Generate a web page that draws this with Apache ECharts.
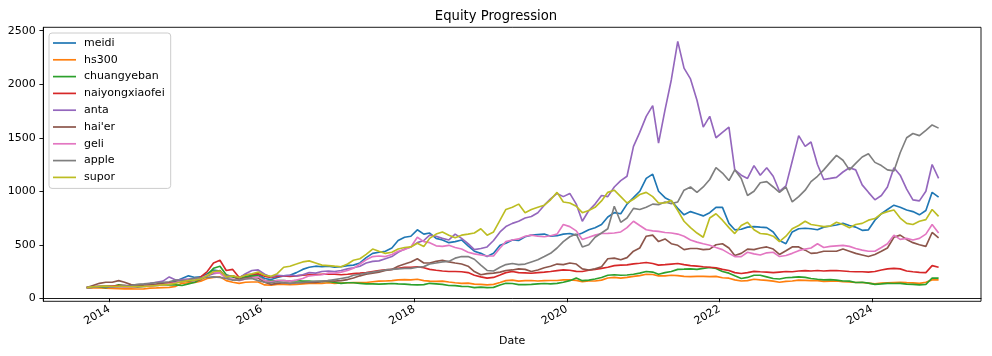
<!DOCTYPE html>
<html>
<head>
<meta charset="utf-8">
<script src="https://cdn.jsdelivr.net/npm/echarts@6/dist/echarts.min.js"></script>
<style>
html,body{margin:0;padding:0;background:#fff;}
#chart{width:992px;height:356px;}
</style>
</head>
<body>
<div id="chart"></div>
<script>
// Monthly samples: Sep 2013 .. Nov 2024 (135 points)
const firstMonth = [2013, 9];
const pointCount = 135;

const seriesNames = ['meidi','hs300','chuangyeban','naiyongxiaofei','anta',"hai'er",'geli','apple','supor'];
const yTickValues = [0, 500, 1000, 1500, 2000, 2500];
const xTickYears = [2014, 2016, 2018, 2020, 2022, 2024];

const meidi = [
 100,105,110,115,
 112,110,108,110,112,115,120,130,140,145,160,185,
 210,195,200,230,265,255,200,205,180,200,215,225,
 185,175,195,210,215,240,270,290,300,295,300,290,
 295,305,310,330,380,420,430,440,470,540,570,580,
 640,600,610,560,545,520,530,545,490,440,420,390,
 420,495,515,545,540,575,590,595,600,580,585,600,
 605,590,610,640,660,690,760,800,790,880,940,1000,
 1120,1160,1000,940,910,840,780,810,790,770,800,850,
 850,700,640,645,665,670,665,660,620,540,510,620,
 650,655,650,640,665,675,685,700,680,665,635,640,
 730,790,830,870,850,825,810,780,820,990,945
];
const hs300 = [
 100,98,97,95,
 92,90,88,88,87,88,95,97,100,102,112,140,
 145,148,160,185,195,200,165,150,140,150,152,152,
 125,122,130,130,128,130,135,140,138,140,145,140,
 143,145,146,146,148,155,160,162,165,172,175,172,
 178,165,160,158,160,152,145,140,142,132,130,125,
 130,148,165,170,160,165,166,162,165,166,166,172,
 172,168,155,162,162,170,190,195,188,195,205,212,
 225,222,210,210,215,212,205,202,205,205,202,205,
 192,188,172,162,165,178,172,168,160,150,158,162,
 170,168,165,165,158,160,162,155,152,148,148,142,
 135,142,145,148,150,146,144,140,150,172,172
];
const chuangyeban = [
 100,103,106,100,
 110,125,120,110,105,110,115,120,125,125,125,120,
 135,150,180,220,280,300,220,200,180,200,210,210,
 165,160,165,165,160,165,160,160,155,158,157,148,
 140,145,145,140,135,135,132,135,138,135,132,128,
 125,128,140,135,130,120,118,112,110,100,105,100,
 102,125,140,138,128,128,130,135,138,135,140,150,
 165,190,165,170,180,195,215,220,215,218,225,235,
 250,245,225,240,250,270,272,275,270,280,288,278,
 250,235,210,185,195,215,215,200,185,180,192,195,
 200,195,185,178,172,175,170,162,160,148,150,142,
 130,135,140,138,140,132,130,125,130,190,188
];
const naiyongxiaofei = [
 100,105,110,115,
 115,120,118,115,118,120,125,130,140,145,150,155,
 165,175,200,250,330,355,260,270,195,220,225,230,
 205,195,205,210,205,210,215,220,222,225,228,225,
 220,225,230,235,240,250,258,265,270,280,290,290,
 295,285,270,262,255,250,250,248,240,215,200,188,
 195,218,240,250,240,238,234,240,245,250,258,265,
 262,252,250,262,270,280,290,305,310,312,322,328,
 335,325,310,315,320,325,315,305,300,295,290,285,
 270,260,240,232,240,252,248,245,240,245,250,248,
 255,258,255,260,255,258,260,255,250,248,248,245,
 250,265,275,280,275,255,248,242,240,305,290
];
const anta = [
 100,110,115,110,
 105,110,118,120,125,130,140,150,160,200,170,175,
 180,185,190,210,230,240,210,210,190,230,260,265,
 225,200,215,210,215,210,220,240,235,250,255,250,
 260,275,285,300,330,345,350,370,390,430,460,480,
 520,540,590,580,560,545,600,560,510,455,465,480,
 540,620,670,700,720,750,765,800,870,930,980,950,
 980,880,720,820,880,960,950,1040,1100,1140,1420,1550,
 1700,1800,1450,1760,2040,2400,2150,2050,1850,1600,1700,1500,
 1550,1600,1200,1150,1120,1240,1150,1220,1140,1000,1050,1280,
 1520,1420,1460,1250,1110,1120,1130,1180,1220,1200,1060,990,
 920,960,1040,1220,1150,1020,920,910,1000,1250,1120
];
const haier = [
 100,120,140,150,
 150,165,150,128,125,118,125,130,140,135,145,160,
 160,165,175,210,240,260,200,210,175,190,195,190,
 150,130,140,145,140,145,145,150,148,155,165,160,
 165,175,190,210,225,235,245,260,270,300,320,340,
 370,330,330,345,355,340,330,320,300,250,220,230,
 235,245,260,265,275,270,250,265,285,300,320,315,
 330,320,275,265,275,295,370,375,360,380,440,470,
 580,590,530,555,510,495,455,465,465,455,460,500,
 510,470,400,420,460,455,470,480,460,410,445,480,
 480,450,420,425,440,440,440,460,440,420,405,390,
 410,440,470,570,590,550,520,500,485,615,565
];
const geli = [
 100,105,112,110,
 110,108,105,105,108,110,115,120,125,135,145,165,
 170,175,185,215,240,235,185,180,165,180,190,200,
 165,155,165,165,160,170,185,210,215,220,235,235,
 245,260,280,320,360,390,395,390,410,440,455,480,
 570,530,520,490,485,495,475,460,430,415,405,395,
 395,470,530,545,555,580,590,580,575,585,600,690,
 670,630,550,570,590,605,607,610,620,660,720,680,
 640,630,625,615,610,600,580,545,525,510,495,475,
 455,420,390,390,430,415,405,425,430,390,400,420,
 445,460,470,510,475,485,490,495,485,465,450,440,
 440,475,510,590,550,560,545,560,600,690,610
];
const apple = [
 100,105,110,112,
 108,110,115,120,130,135,140,148,150,155,170,165,
 170,190,190,195,200,195,185,170,170,180,185,165,
 150,145,155,145,140,145,150,155,160,162,165,175,
 185,195,215,225,235,245,255,265,270,275,280,280,
 290,296,320,330,340,345,375,390,390,365,310,260,
 255,290,315,325,315,320,340,360,390,420,470,530,
 575,600,480,500,570,610,650,860,710,750,840,830,
 850,880,875,900,885,900,1010,1040,990,1040,1110,1220,
 1170,1100,1200,1120,960,1000,1080,1090,1040,990,1040,900,
 950,1010,1090,1140,1200,1270,1335,1290,1200,1260,1320,1350,
 1270,1240,1200,1190,1360,1500,1540,1520,1570,1620,1590
];
const supor = [
 100,108,112,115,
 110,112,110,108,110,112,115,120,125,130,140,155,
 165,170,180,210,250,255,200,210,195,215,230,245,
 215,205,230,290,300,320,340,350,330,310,305,300,
 295,320,355,370,410,460,440,420,430,460,475,480,
 515,485,560,600,620,590,565,590,600,610,650,590,
 620,730,830,850,880,800,830,850,870,920,990,900,
 890,860,800,820,850,910,990,1010,950,890,925,970,
 990,950,890,890,915,820,720,660,610,570,750,790,
 730,660,605,680,710,640,605,600,580,530,580,650,
 680,720,690,680,670,675,710,690,660,690,700,730,
 745,790,810,825,750,700,690,720,735,830,765
];

const seriesValues = [meidi, hs300, chuangyeban, naiyongxiaofei, anta, haier, geli, apple, supor];
const colors = ['#1f77b4','#ff7f0e','#2ca02c','#d62728','#9467bd','#8c564b','#e377c2','#7f7f7f','#bcbd22'];

// sample dates (mid-month) as timestamps
const dates = [];
for (let i = 0; i < pointCount; i++) {
  const m0 = firstMonth[1] - 1 + i;
  const y = firstMonth[0] + Math.floor(m0 / 12);
  dates.push(new Date(y, m0 % 12, 15).getTime());
}

const xTicks = xTickYears.map(y => new Date(y, 0, 1).getTime());
const xMin = new Date(2013, 1, 19).getTime();
const xMax = new Date(2025, 5, 6).getTime();

const chart = echarts.init(document.getElementById('chart'), null, {renderer: 'canvas'});
const font = 'DejaVu Sans';

chart.setOption({
  animation: false,
  backgroundColor: '#fff',
  textStyle: {fontFamily: font},
  title: {
    text: 'Equity Progression', left: 'center', top: 10, padding: 0,
    textStyle: {fontSize: 13.2, fontWeight: 'normal', color: '#000', fontFamily: font}
  },
  legend: {
    orient: 'vertical', left: 49, top: 33,
    data: seriesNames,
    icon: 'rect',
    itemWidth: 23, itemHeight: 1.7, itemGap: 4.8,
    padding: [4, 6, 5, 4],
    backgroundColor: 'rgba(255,255,255,0.8)',
    borderColor: '#cccccc', borderWidth: 1, borderRadius: 3,
    textStyle: {fontSize: 11, lineHeight: 12, color: '#000', fontFamily: font, padding: [0, 0, 0, 3]}
  },
  grid: {
    left: 43.3, right: 11, top: 27.3, bottom: 54.7,
    show: true, borderColor: '#000', borderWidth: 0.9, backgroundColor: 'transparent'
  },
  xAxis: {
    type: 'value', min: xMin, max: xMax, scale: true,
    name: 'Date', nameLocation: 'middle', nameGap: 34,
    nameTextStyle: {fontSize: 11, color: '#000', fontFamily: font},
    axisLine: {show: true, lineStyle: {color: '#000', width: 0.9}},
    axisTick: {show: true, length: 3.9, lineStyle: {color: '#000', width: 0.9}, customValues: xTicks},
    axisLabel: {
      customValues: xTicks, rotate: 30, fontSize: 11, color: '#000', margin: 7,
      fontFamily: font,
      formatter: v => String(new Date(v).getFullYear())
    },
    splitLine: {show: false}
  },
  yAxis: {
    type: 'value', min: -28, max: 2532,
    axisLine: {show: true, lineStyle: {color: '#000', width: 0.9}},
    axisTick: {show: true, length: 3.9, lineStyle: {color: '#000', width: 0.9}, customValues: yTickValues},
    axisLabel: {customValues: yTickValues, fontSize: 11, color: '#000', margin: 7.5, fontFamily: font,
      formatter: v => String(v)},
    splitLine: {show: false}
  },
  series: seriesNames.map((name, k) => ({
    name: name, type: 'line', symbol: 'none', showSymbol: false,
    color: colors[k],
    lineStyle: {width: 1.65, color: colors[k]},
    data: dates.map((d, i) => [d, seriesValues[k][i]])
  }))
});
</script>
</body>
</html>
